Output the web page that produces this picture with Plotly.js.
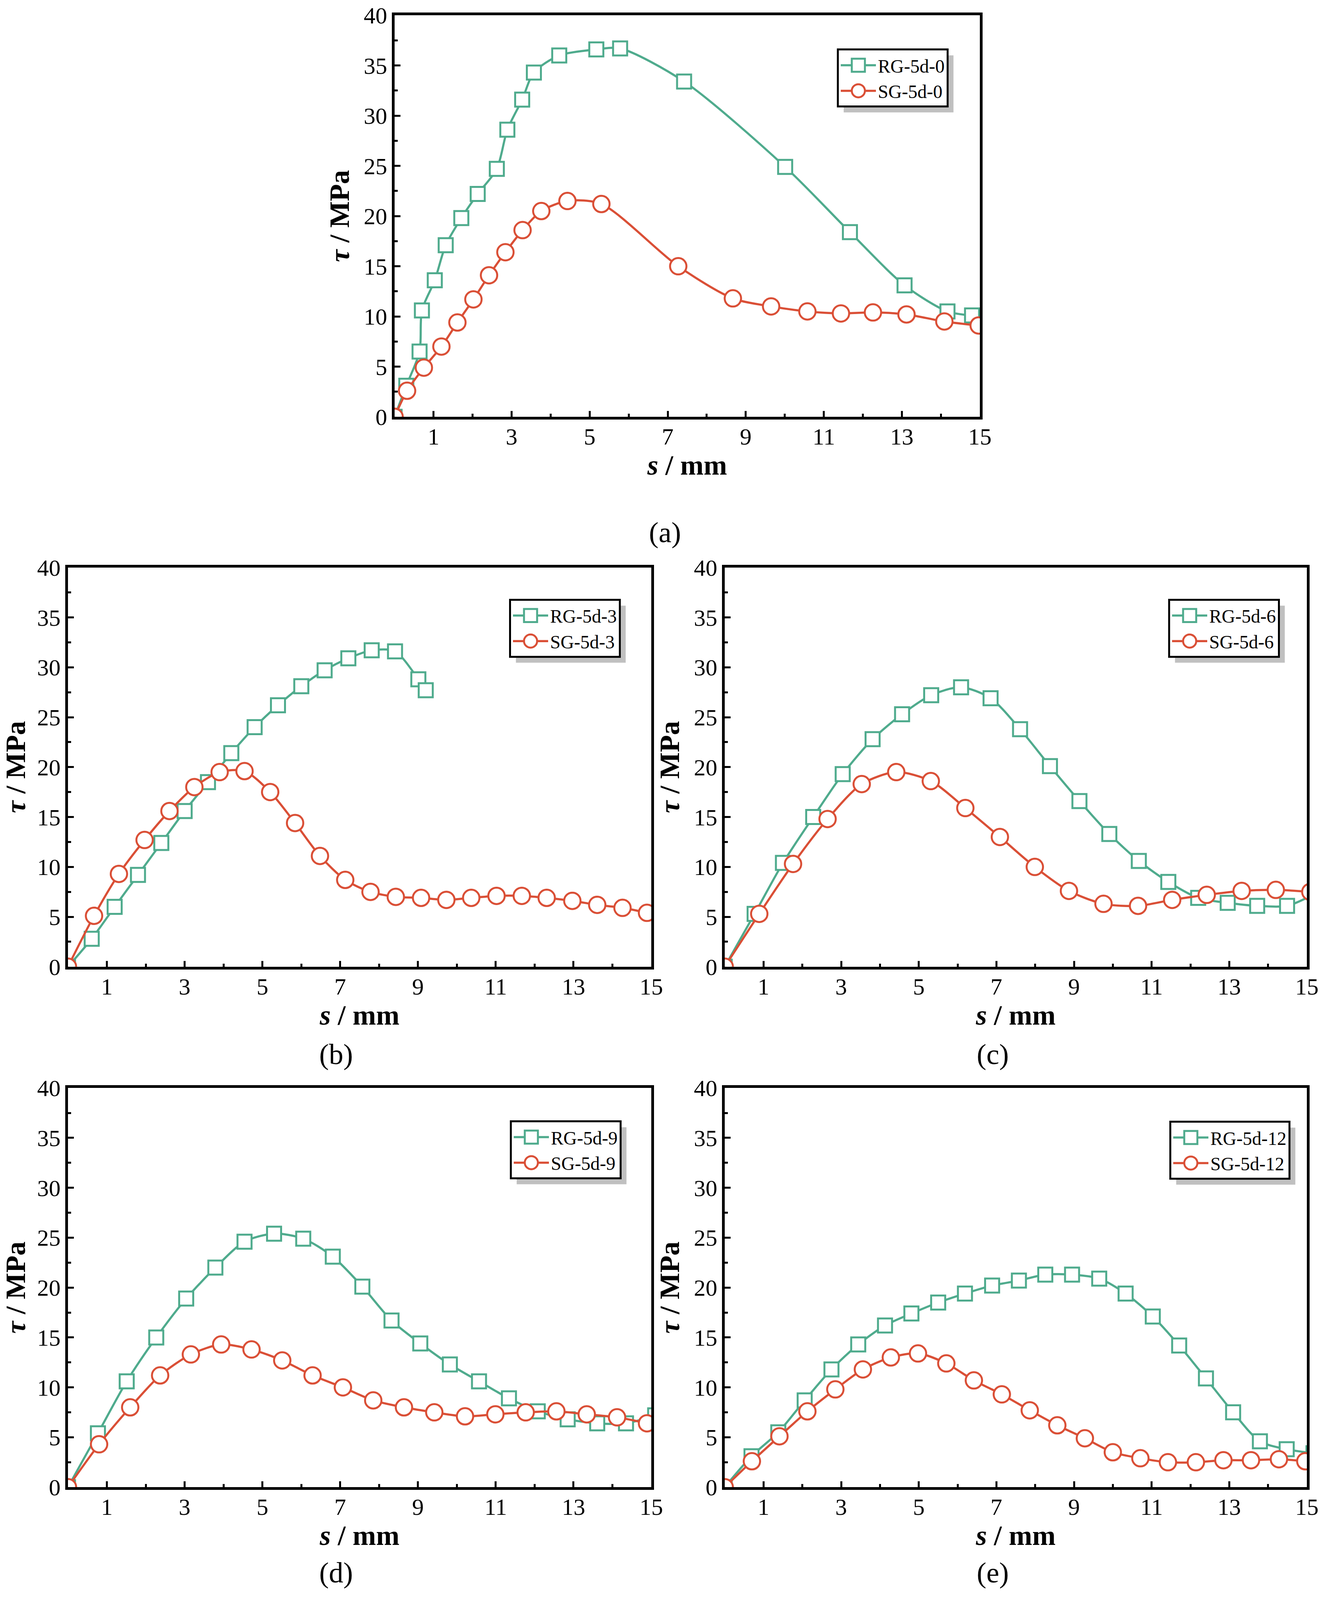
<!DOCTYPE html>
<html>
<head>
<meta charset="utf-8">
<script src="https://cdn.plot.ly/plotly-3.0.1.min.js"></script>
<style>html,body{margin:0;padding:0;background:#fff;overflow:hidden}</style>
</head>
<body>
<div id="fig"></div>
<script>
// bond stress - slip curves
const rg0_s   = [0, 0.30, 0.64, 0.70, 1.03, 1.31, 1.71, 2.13, 2.62, 2.89, 3.27, 3.57, 4.22, 5.17, 5.78, 7.42, 10.01, 11.67, 13.07, 14.17, 14.80];
const rg0_tau = [0, 3.1, 6.5, 10.6, 13.6, 17.1, 19.8, 22.2, 24.7, 28.6, 31.6, 34.3, 36.0, 36.6, 36.7, 33.4, 24.9, 18.4, 13.1, 10.5, 10.1];
const sg0_s   = [0, 0.32, 0.75, 1.20, 1.61, 2.02, 2.42, 2.84, 3.28, 3.76, 4.43, 5.30, 7.27, 8.67, 9.65, 10.58, 11.44, 12.26, 13.12, 14.09, 14.97];
const sg0_tau = [0, 2.6, 4.9, 7.0, 9.4, 11.7, 14.1, 16.4, 18.6, 20.5, 21.5, 21.2, 15.0, 11.8, 11.0, 10.5, 10.3, 10.4, 10.2, 9.5, 9.1];

const rg3_s   = [0, 0.61, 1.20, 1.80, 2.40, 3.00, 3.60, 4.20, 4.80, 5.40, 6.00, 6.60, 7.21, 7.81, 8.41, 9.01, 9.20];
const rg3_tau = [0, 2.8, 6.0, 9.2, 12.4, 15.6, 18.5, 21.4, 24.0, 26.2, 28.1, 29.7, 30.9, 31.7, 31.6, 28.8, 27.7];
const sg3_s   = [0, 0.67, 1.31, 1.97, 2.61, 3.25, 3.90, 4.54, 5.20, 5.84, 6.48, 7.13, 7.78, 8.43, 9.08, 9.73, 10.37, 11.02, 11.67, 12.31, 12.97, 13.61, 14.26, 14.89];
const sg3_tau = [0, 5.1, 9.3, 12.7, 15.6, 18.0, 19.5, 19.6, 17.5, 14.4, 11.1, 8.7, 7.5, 7.0, 6.9, 6.7, 6.9, 7.1, 7.1, 6.9, 6.6, 6.2, 5.9, 5.4];

const rg6_s   = [0, 0.77, 1.50, 2.28, 3.04, 3.81, 4.57, 5.32, 6.09, 6.85, 7.61, 8.38, 9.14, 9.91, 10.67, 11.43, 12.20, 12.96, 13.72, 14.49, 15.25];
const rg6_tau = [0, 5.3, 10.4, 15.0, 19.3, 22.8, 25.3, 27.2, 28.0, 26.9, 23.8, 20.1, 16.6, 13.3, 10.6, 8.5, 6.9, 6.4, 6.1, 6.1, 7.4];
const sg6_s   = [0, 0.89, 1.76, 2.65, 3.53, 4.42, 5.31, 6.20, 7.09, 7.99, 8.87, 9.76, 10.65, 11.53, 12.42, 13.32, 14.20, 15.09];
const sg6_tau = [0, 5.3, 10.3, 14.8, 18.3, 19.5, 18.6, 15.9, 13.0, 10.0, 7.6, 6.3, 6.1, 6.7, 7.2, 7.6, 7.7, 7.5];

const rg9_s   = [0, 0.77, 1.51, 2.27, 3.04, 3.79, 4.54, 5.30, 6.05, 6.81, 7.57, 8.32, 9.06, 9.82, 10.57, 11.34, 12.08, 12.85, 13.61, 14.35, 15.10];
const rg9_tau = [0, 5.4, 10.6, 15.0, 18.9, 22.0, 24.6, 25.4, 24.9, 23.1, 20.1, 16.7, 14.4, 12.3, 10.6, 8.9, 7.6, 6.8, 6.4, 6.4, 7.2];
const sg9_s   = [0, 0.80, 1.60, 2.37, 3.16, 3.94, 4.72, 5.51, 6.29, 7.07, 7.85, 8.64, 9.42, 10.21, 10.99, 11.77, 12.56, 13.34, 14.12, 14.89];
const sg9_tau = [0, 4.3, 8.0, 11.2, 13.3, 14.3, 13.8, 12.7, 11.2, 10.0, 8.7, 8.0, 7.5, 7.1, 7.3, 7.5, 7.6, 7.3, 7.0, 6.4];

const rg12_s   = [0, 0.69, 1.38, 2.06, 2.75, 3.44, 4.13, 4.81, 5.50, 6.19, 6.89, 7.58, 8.26, 8.95, 9.65, 10.33, 11.03, 11.71, 12.40, 13.10, 13.79, 14.48, 15.17];
const rg12_tau = [0, 3.1, 5.5, 8.7, 11.8, 14.3, 16.2, 17.4, 18.5, 19.4, 20.2, 20.7, 21.3, 21.3, 20.9, 19.4, 17.1, 14.2, 10.9, 7.5, 4.6, 3.8, 3.4];
const sg12_s   = [0, 0.70, 1.41, 2.13, 2.85, 3.56, 4.28, 4.98, 5.71, 6.42, 7.14, 7.86, 8.57, 9.28, 10.00, 10.71, 11.42, 12.14, 12.85, 13.56, 14.28, 14.96];
const sg12_tau = [0, 2.6, 5.1, 7.6, 9.8, 11.8, 13.0, 13.4, 12.4, 10.7, 9.3, 7.7, 6.2, 4.9, 3.5, 2.9, 2.5, 2.5, 2.7, 2.7, 2.8, 2.6];

const PANEL_TAGS = ['(a)', '(b)', '(c)', '(d)', '(e)'];
const SERIES = [
  ['RG-5d-0', rg0_s, rg0_tau], ['SG-5d-0', sg0_s, sg0_tau],
  ['RG-5d-3', rg3_s, rg3_tau], ['SG-5d-3', sg3_s, sg3_tau],
  ['RG-5d-6', rg6_s, rg6_tau], ['SG-5d-6', sg6_s, sg6_tau],
  ['RG-5d-9', rg9_s, rg9_tau], ['SG-5d-9', sg9_s, sg9_tau],
  ['RG-5d-12', rg12_s, rg12_tau], ['SG-5d-12', sg12_s, sg12_tau],
];

// positions below are measured on a 3394 x 4184 sheet; the page may be shorter,
// so the figure takes the window height and keeps the same proportions
const W = 3394, H = 4184;
const FIG_H = Math.min(H, window.innerHeight || H);
const FONT = '"Liberation Serif", "Times New Roman", serif';
const GREEN = '#4fab8d', RED = '#da4f36';
const px = (v) => v / W, py = (v) => 1 - v / H;

// plot boxes in sheet pixels: left, top, right, bottom
const BOXES = [
  [1010, 40, 2508, 1090],
  [174, 1484, 1667, 2528],
  [1855, 1484, 3345, 2528],
  [174, 2845, 1667, 3889],
  [1855, 2845, 3345, 3889],
];
const LEG_POS = [[2142, 127], [1303, 1566], [2990, 1566], [1305, 2930], [2993, 2931]];
const TAG_POS = [[1702, 1392], [860, 2757], [2541, 2757], [860, 4112], [2541, 4112]];

const sfx = (i) => (i === 0 ? '' : String(i + 1));

const traces = SERIES.map(([name, s, tau], k) => {
  const p = Math.floor(k / 2);
  const rg = k % 2 === 0;
  return {
    x: s, y: tau, name, type: 'scatter', mode: 'lines+markers',
    xaxis: 'x' + sfx(p), yaxis: 'y' + sfx(p), legend: 'legend' + sfx(p),
    line: { color: rg ? GREEN : RED, width: 5.5, shape: 'spline', smoothing: 0.8 },
    marker: {
      symbol: rg ? 'square' : 'circle', size: rg ? 36 : 42, color: '#fff',
      line: { color: rg ? GREEN : RED, width: 5 },
    },
  };
});

const tickStyle = {
  ticks: 'inside', ticklen: 15, tickwidth: 5, tickcolor: '#000',
  showline: true, linewidth: 7, linecolor: '#000', mirror: true,
  showgrid: false, zeroline: false, fixedrange: true,
  tickfont: { family: FONT, size: 60, color: '#000' },
};
const titleFont = { family: FONT, size: 72, color: '#000' };

const layout = {
  width: W, height: FIG_H, margin: { l: 0, r: 0, t: 0, b: 0 },
  paper_bgcolor: '#fff', plot_bgcolor: '#fff', showlegend: true,
  annotations: [], shapes: [],
};

BOXES.forEach((b, i) => {
  layout['xaxis' + sfx(i)] = {
    ...tickStyle, domain: [px(b[0]), px(b[2])], anchor: 'y' + sfx(i), range: [0, 15],
    tickmode: 'linear', tick0: 1, dtick: 2, ticklabelstandoff: -8,
    minor: { ticks: 'inside', tick0: 0, dtick: 1, ticklen: 8, tickwidth: 5, tickcolor: '#000' },
    title: { text: '<b><i>s</i> / mm</b>', font: titleFont, standoff: 8 },
  };
  layout['yaxis' + sfx(i)] = {
    ...tickStyle, domain: [py(b[3]), py(b[1])], anchor: 'x' + sfx(i), range: [0, 40],
    tickmode: 'linear', tick0: 0, dtick: 5,
    minor: { ticks: 'inside', tick0: 0, dtick: 2.5, ticklen: 8, tickwidth: 5, tickcolor: '#000' },
    title: { text: '<b><i>τ</i> / MPa</b>', font: titleFont, standoff: 16 },
  };
  layout['legend' + sfx(i)] = {
    x: px(LEG_POS[i][0]), y: py(LEG_POS[i][1]), xanchor: 'left', yanchor: 'top',
    bgcolor: '#fff', bordercolor: '#000', borderwidth: 5, itemwidth: 90,
    font: { family: FONT, size: 48, color: '#000' },
  };
  layout.annotations.push({
    text: PANEL_TAGS[i], xref: 'paper', yref: 'paper',
    x: px(TAG_POS[i][0]), y: py(TAG_POS[i][1]), xanchor: 'center', yanchor: 'middle',
    showarrow: false, font: { family: FONT, size: 74, color: '#000' },
  });
});

const gd = document.getElementById('fig');
gd.style.width = W + 'px';
gd.style.height = FIG_H + 'px';
const SYM_SCALE = 2.1;
const LEGEND_SEL = '.infolayer > g[class^="legend"]';

// grey drop shadow behind every legend box, offset by 15 px
function legendShadows() {
  const svg = gd.querySelector('.main-svg').getBoundingClientRect();
  const shapes = [];
  gd.querySelectorAll(LEGEND_SEL + ' rect.bg').forEach((r) => {
    const b = r.getBoundingClientRect();
    const l = b.left - svg.left + 15, t = b.top - svg.top + 15;
    shapes.push({
      type: 'rect', xref: 'paper', yref: 'paper', layer: 'above',
      x0: l / W, x1: (l + b.width) / W,
      y0: 1 - (t + b.height) / FIG_H, y1: 1 - t / FIG_H,
      fillcolor: '#c0c0c0', line: { width: 0 },
    });
  });
  return Plotly.relayout(gd, { shapes });
}

// plotly caps legend marker size at 16 px; the original uses full-size symbols
function bigLegendSymbols() {
  gd.querySelectorAll(LEGEND_SEL + ' path.scatterpts').forEach((p) => {
    const t = p.getAttribute('transform') || '';
    p.setAttribute('transform', t + ' scale(' + SYM_SCALE + ')');
    p.style.strokeWidth = (5 / SYM_SCALE) + 'px';
  });
}

Plotly.newPlot(gd, traces, layout, { staticPlot: true, displayModeBar: false })
  .then(legendShadows)
  .then(bigLegendSymbols);
</script>
</body>
</html>
